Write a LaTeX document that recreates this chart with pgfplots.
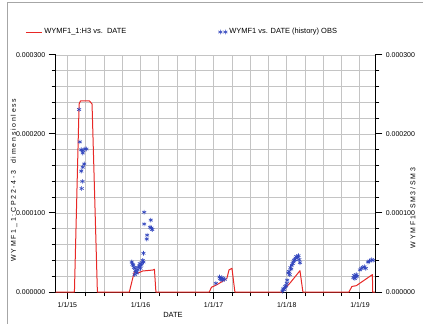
\documentclass[border=0pt]{standalone}
\usepackage{pgfplots}
\pgfplotsset{compat=1.18}
\usepackage{fontspec}
\setmainfont{Liberation Sans}
\newfontfamily\spaced{Liberation Sans}[LetterSpace=25]
\definecolor{simred}{RGB}{232,40,38}
\definecolor{obsblue}{RGB}{50,70,190}
\definecolor{gridgray}{RGB}{196,196,196}
\pgfplotsset{
  redleg/.style={legend image code/.code={\draw[##1] (0bp,0bp) -- (16bp,0bp);}},
  starleg/.style={legend image code/.code={\draw[##1, mark repeat=1] plot coordinates {(2bp,0bp) (7bp,0bp)};}},
}
\begin{document}
\begin{tikzpicture}[x=1bp,y=1bp]
\path[use as bounding box] (0,0) rectangle (423,324);
\draw[gray!70, line width=0.8bp] (7,0) -- (7,322) -- (423,322);
\begin{axis}[at={(55.7bp,32bp)}, anchor=south west, scale only axis,
  width=319.6bp, height=237bp,
  xmin=2014.84, xmax=2019.21, ymin=0, ymax=0.0003,
  axis x line*=bottom, axis y line*=left,
  axis line style={-, black, line width=0.8bp},
  xtick={2015,2016,2017,2018,2019},
  xticklabels={1/1/15,1/1/16,1/1/17,1/1/18,1/1/19},
  ytick={0,0.0001,0.0002,0.0003},
  yticklabels={0.000000,0.000100,0.000200,0.000300},
  scaled y ticks=false, scaled x ticks=false,
  minor x tick num=3, minor y tick num=4,
  xmajorgrids=true, ymajorgrids=true, xminorgrids=true, yminorgrids=true,
  major grid style={draw=gridgray, line width=0.9bp},
  minor grid style={draw=gridgray, line width=0.9bp},
  tick align=outside, major tick length=7bp, minor tick length=4bp,
  major tick style={black, line width=1bp},
  minor tick style={black, line width=0.6bp},
  ticklabel style={font=\fontsize{7}{8}\selectfont},
  clip=false,
  legend columns=2,
  legend style={at={(-0.105,1.097)}, anchor=west, draw=none, fill=none,
    font=\fontsize{7.5}{9}\selectfont,
    /tikz/every even column/.append style={column sep=90bp}},
]
\addplot[simred, line width=1bp, line join=round, redleg] coordinates {
(2014.84,0) (2015.096,0) (2015.16,0.000238) (2015.18,0.000242) (2015.30,0.000242) (2015.337,0.000238) (2015.41,0)
(2015.847,0) (2015.915,0.0000257) (2015.96,0.0000237) (2016.03,0.0000266) (2016.17,0.0000278) (2016.19,0.0000287) (2016.21,0)
(2016.94,0) (2016.97,0.000006) (2017.04,0.000009) (2017.13,0.000014) (2017.18,0.000017) (2017.21,0.000028) (2017.25,0.000030) (2017.29,0)
(2017.93,0) (2018.05,0.000012) (2018.18,0.000027) (2018.22,0)
(2018.85,0) (2018.89,0.000007) (2018.95,0.000008) (2019.17,0.000022) (2019.175,0) (2019.21,0)
};
\addlegendentry{WYMF1\_1:H3 vs.\ \ DATE}
\addplot[only marks, mark=asterisk, mark size=2.3bp, obsblue, line width=0.6bp, starleg] coordinates {
(2015.16,0.000231) (2015.17,0.000190) (2015.19,0.000180) (2015.21,0.000179) (2015.24,0.000181) (2015.21,0.000176)
(2015.26,0.000181) (2015.23,0.000162) (2015.21,0.000158) (2015.19,0.000153) (2015.205,0.000140) (2015.195,0.000131)
(2016.05,0.000101) (2016.14,0.000091) (2016.05,0.000086) (2016.13,0.000082) (2016.16,0.000079) (2016.15,0.000081)
(2016.09,0.000072) (2016.085,0.000067) (2016.04,0.000049)
(2015.88,0.000038) (2015.89,0.000035) (2015.90,0.000034) (2015.91,0.000031) (2015.925,0.000030) (2015.93,0.000027)
(2015.94,0.000025) (2015.95,0.000024) (2015.96,0.000028) (2015.97,0.000031) (2015.98,0.000033) (2015.99,0.000036)
(2016.00,0.000030) (2016.01,0.000034) (2016.02,0.000037) (2016.03,0.000040) (2016.04,0.000038) (2015.92,0.000022)
(2017.03,0.000011) (2017.08,0.000019) (2017.09,0.000017) (2017.10,0.000016) (2017.11,0.000018) (2017.12,0.000015)
(2017.13,0.000017) (2017.15,0.000016)
(2017.94,0.000001) (2017.95,0.000004) (2017.96,0.000003) (2017.97,0.000005) (2017.98,0.000007) (2017.99,0.000008)
(2018.00,0.000011) (2018.005,0.000015) (2018.02,0.000024) (2018.03,0.000026) (2018.04,0.000022) (2018.05,0.000031)
(2018.06,0.000029) (2018.07,0.000034) (2018.08,0.000036) (2018.09,0.000038) (2018.10,0.000040) (2018.11,0.000041)
(2018.12,0.000043) (2018.13,0.000045) (2018.15,0.000044) (2018.16,0.000046) (2018.17,0.000041) (2018.18,0.000037)
(2018.91,0.000018) (2018.92,0.000021) (2018.93,0.000017) (2018.94,0.000019) (2018.95,0.000022) (2018.96,0.000020)
(2019.00,0.000028) (2019.02,0.000030) (2019.04,0.000031) (2019.06,0.000032) (2019.08,0.000030) (2019.11,0.000038)
(2019.13,0.000039) (2019.16,0.000041) (2019.18,0.000040)
};
\addlegendentry{WYMF1 vs. DATE (history) OBS}
\end{axis}
\begin{axis}[at={(55.7bp,32bp)}, anchor=south west, scale only axis,
  width=319.6bp, height=237bp,
  xmin=2014.84, xmax=2019.21, ymin=0, ymax=0.0003,
  axis x line=none, axis y line*=right,
  axis line style={-, black, line width=0.8bp},
  ytick={0,0.0001,0.0002,0.0003},
  yticklabels={0.000000,0.000100,0.000200,0.000300},
  scaled y ticks=false, minor y tick num=4,
  tick align=outside, major tick length=7bp, minor tick length=4bp,
  major tick style={black, line width=1bp},
  minor tick style={black, line width=0.6bp},
  ticklabel style={font=\fontsize{7}{8}\selectfont},
]
\addplot[draw=none, forget plot] coordinates {(2015,0) (2019,0)};
\end{axis}
\node[rotate=90, font=\spaced\fontsize{7}{8}\selectfont] at (14,144) {WYMF1\_1:CP22-4-3\quad dimensionless};
\node[rotate=90, font=\spaced\fontsize{7}{8}\selectfont] at (413,116) {WYMF1\quad SM3/SM3};
\node[font=\fontsize{7.5}{9}\selectfont] at (173,9) {DATE};
\end{tikzpicture}
\end{document}
